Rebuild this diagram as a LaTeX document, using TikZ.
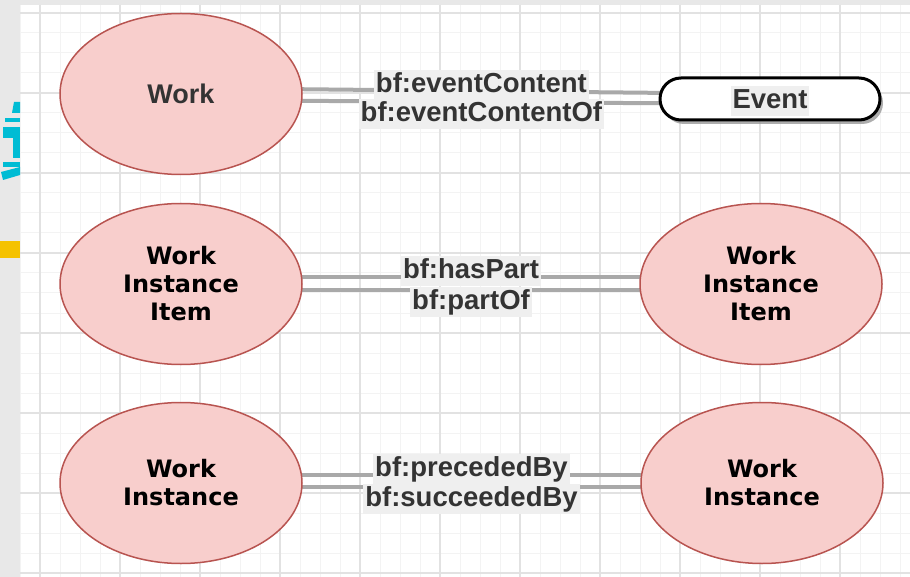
\documentclass[tikz,border=0pt]{standalone}
\usepackage{fontspec}
\setmainfont{Liberation Sans}
\newfontfamily\verdfont{DejaVu Sans}
\usetikzlibrary{shapes.geometric,shadows}
\definecolor{canvasgrey}{HTML}{E8E8E8}
\definecolor{gridmajor}{HTML}{E2E2E2}
\definecolor{gridminor}{HTML}{F3F3F3}
\definecolor{entityfill}{HTML}{F8CECC}
\definecolor{entityline}{HTML}{B85450}
\definecolor{relline}{HTML}{A9A9A9}
\definecolor{relbg}{HTML}{EFEFEF}
\definecolor{reltext}{HTML}{333333}
\definecolor{artcyan}{HTML}{00BCD4}
\definecolor{artyellow}{HTML}{F5C200}
\pgfdeclarelayer{grid}\pgfdeclarelayer{links}
\pgfsetlayers{grid,links,main}

\begin{document}
\begin{tikzpicture}[x=1pt,y=-1pt,
 entity/.style={ellipse,fill=entityfill,draw=entityline,line width=1.5pt,minimum width=242pt,minimum height=161pt,inner sep=0pt,align=center,font=\verdfont\bfseries\fontsize{24}{28}\selectfont},
 worktext/.style={text=reltext,font=\bfseries\fontsize{27}{30}\selectfont},
 evt/.style={draw=black,line width=3pt,fill=white,rounded corners=21pt,minimum width=220pt,minimum height=42pt,drop shadow={shadow xshift=3pt,shadow yshift=-4pt,fill=black!40,opacity=.8}},
 rel/.style={draw=relline,line width=4pt},
 rellbl/.style={fill=relbg,text=reltext,inner xsep=2pt,inner ysep=1.5pt,text height=21pt,text depth=6pt,font=\bfseries\fontsize{27.5}{30}\selectfont},
 reltop/.style={rellbl,yshift=6pt},relbot/.style={rellbl,yshift=-12pt}]
 \useasboundingbox(0,0)rectangle(910,577);
 % canvas, grid and the cut-off strip on the left
 \begin{pgfonlayer}{grid}
 \fill[canvasgrey](0,0)rectangle(910,577);
 \fill[white](20,5)rectangle(910,577);
 \foreach \x in {20,40,...,900}{\draw[gridminor,line width=1pt](\x,5)--(\x,577);}
 \foreach \y in {13,33,...,573}{\draw[gridminor,line width=1pt](20,\y)--(910,\y);}
 \foreach \x in {40,120,...,840}{\draw[gridmajor,line width=1.2pt](\x,5)--(\x,577);}
 \foreach \y in {13,93,...,573}{\draw[gridmajor,line width=1.2pt](20,\y)--(910,\y);}
 \fill[artcyan](14,102)--(20,102)--(20,113)--(12,113)--cycle;
 \fill[artcyan](5,118)rectangle(20,122);
 \fill[artcyan](3,127)rectangle(20,138);
 \fill[artcyan](13,138)rectangle(20,158);
 \fill[artcyan](3,162)rectangle(20,167);
 \fill[artcyan](1,172)--(20,167)--(20,175)--(3,180)--cycle;
 \fill[artyellow](0,241)rectangle(20,258);
 \end{pgfonlayer}
 % entities
 \node[entity,worktext](work)at(181,94){Work};
 \node[entity](wiiL)at(181,284){Work\\Instance\\Item};
 \node[entity](wiiR)at(761,284){Work\\Instance\\Item};
 \node[entity](wiL)at(181,483){Work\\Instance};
 \node[entity](wiR)at(762,483){Work\\Instance};
 \node[evt](event)at(770,99){};
 \node[rellbl,yshift=-2pt](eventtxt)at(event){Event};
 % relations, one line per property
 \begin{pgfonlayer}{links}
 \draw[rel]([yshift=6pt]work.center)--node[reltop,pos=.51](lblcontent){bf:eventContent}([yshift=5pt]event.center);
 \draw[rel]([yshift=-6pt]work.center)--node[relbot,pos=.51](lblcontentof){bf:eventContentOf}([yshift=-5pt]event.center);
 \draw[rel]([yshift=7pt]wiiL.center)--node[reltop](lblhaspart){bf:hasPart}([yshift=7pt]wiiR.center);
 \draw[rel]([yshift=-6pt]wiiL.center)--node[relbot](lblpartof){bf:partOf}([yshift=-6pt]wiiR.center);
 \draw[rel]([yshift=8pt]wiL.center)--node[reltop](lblpreceded){bf:precededBy}([yshift=8pt]wiR.center);
 \draw[rel]([yshift=-4pt]wiL.center)--node[relbot](lblsucceeded){bf:succeededBy}([yshift=-4pt]wiR.center);
 \end{pgfonlayer}
\end{tikzpicture}
\end{document}
